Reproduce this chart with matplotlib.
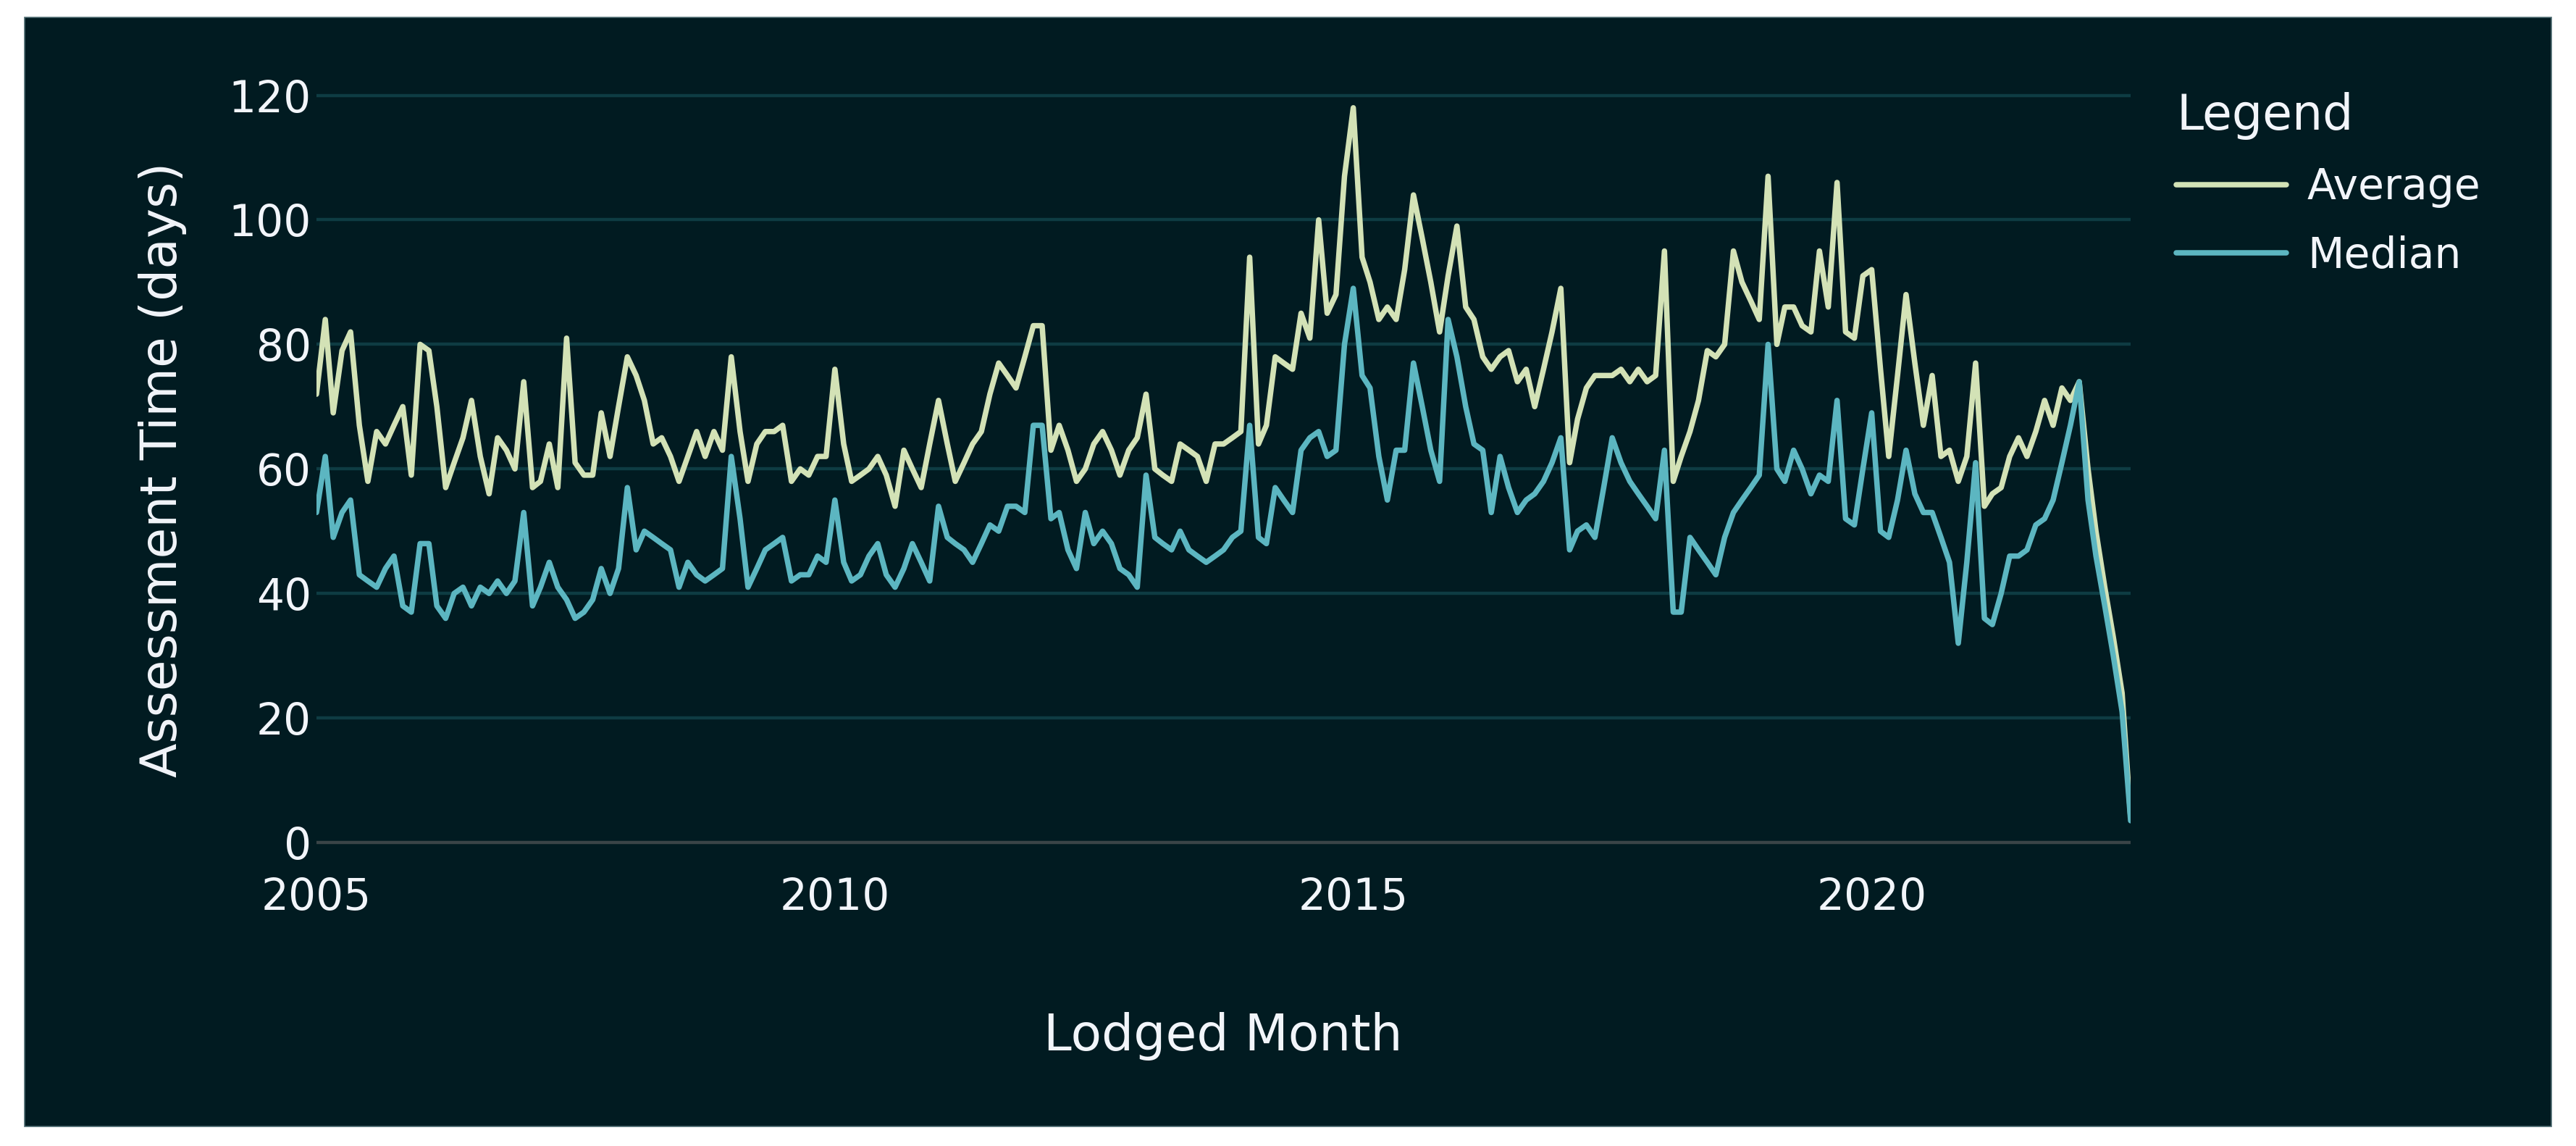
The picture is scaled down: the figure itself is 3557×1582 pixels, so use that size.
import numpy as np
import pandas as pd
import matplotlib
matplotlib.use("Agg")
import matplotlib.pyplot as plt
import matplotlib.dates as mdates
from matplotlib.patches import Rectangle

# ---------------- data (monthly, Jan 2005 .. Jul 2022) ----------------
start_month = "2005-01-01"
average = [
    72, 84, 69, 79, 82, 67, 58, 66, 64, 67, 70, 59,
    80, 79, 70, 57, 61, 65, 71, 62, 56, 65, 63, 60,
    74, 57, 58, 64, 57, 81, 61, 59, 59, 69, 62, 70,
    78, 75, 71, 64, 65, 62, 58, 62, 66, 62, 66, 63,
    78, 66, 58, 64, 66, 66, 67, 58, 60, 59, 62, 62,
    76, 64, 58, 59, 60, 62, 59, 54, 63, 60, 57, 64,
    71, 64, 58, 61, 64, 66, 72, 77, 75, 73, 78, 83,
    83, 63, 67, 63, 58, 60, 64, 66, 63, 59, 63, 65,
    72, 60, 59, 58, 64, 63, 62, 58, 64, 64, 65, 66,
    94, 64, 67, 78, 77, 76, 85, 81, 100, 85, 88, 107,
    118, 94, 90, 84, 86, 84, 92, 104, 97, 90, 82, 91,
    99, 86, 84, 78, 76, 78, 79, 74, 76, 70, 76, 82,
    89, 61, 68, 73, 75, 75, 75, 76, 74, 76, 74, 75,
    95, 58, 62, 66, 71, 79, 78, 80, 95, 90, 87, 84,
    107, 80, 86, 86, 83, 82, 95, 86, 106, 82, 81, 91,
    92, 76, 62, 75, 88, 77, 67, 75, 62, 63, 58, 62,
    77, 54, 56, 57, 62, 65, 62, 66, 71, 67, 73, 71,
    74, 60, 50, 41, 33, 24, 4,
]
median = [
    53, 62, 49, 53, 55, 43, 42, 41, 44, 46, 38, 37,
    48, 48, 38, 36, 40, 41, 38, 41, 40, 42, 40, 42,
    53, 38, 41, 45, 41, 39, 36, 37, 39, 44, 40, 44,
    57, 47, 50, 49, 48, 47, 41, 45, 43, 42, 43, 44,
    62, 52, 41, 44, 47, 48, 49, 42, 43, 43, 46, 45,
    55, 45, 42, 43, 46, 48, 43, 41, 44, 48, 45, 42,
    54, 49, 48, 47, 45, 48, 51, 50, 54, 54, 53, 67,
    67, 52, 53, 47, 44, 53, 48, 50, 48, 44, 43, 41,
    59, 49, 48, 47, 50, 47, 46, 45, 46, 47, 49, 50,
    67, 49, 48, 57, 55, 53, 63, 65, 66, 62, 63, 80,
    89, 75, 73, 62, 55, 63, 63, 77, 70, 63, 58, 84,
    78, 70, 64, 63, 53, 62, 57, 53, 55, 56, 58, 61,
    65, 47, 50, 51, 49, 57, 65, 61, 58, 56, 54, 52,
    63, 37, 37, 49, 47, 45, 43, 49, 53, 55, 57, 59,
    80, 60, 58, 63, 60, 56, 59, 58, 71, 52, 51, 60,
    69, 50, 49, 55, 63, 56, 53, 53, 49, 45, 32, 45,
    61, 36, 35, 40, 46, 46, 47, 51, 52, 55, 61, 67,
    74, 55, 46, 38, 30, 21, 3.5,
]
months = pd.date_range(start_month, periods=len(average), freq="MS")
series_names = ["Average", "Median"]
y_ticks = [0, 20, 40, 60, 80, 100, 120]
x_tick_years = [2005, 2010, 2015, 2020]

# ---------------- styling ----------------
W, H = 3557, 1582
BG = "#011b21"
GRID = "#0e3c43"
ZERO = "#3a4447"
TXT = "#f2f5fa"
C_AVG = "#d3e2b6"
C_MED = "#5cb6c1"

plt.rcParams["font.family"] = ["DejaVu Sans"]

fig = plt.figure(figsize=(W / 100, H / 100), dpi=100)
fig.patch.set_facecolor("white")
bg_rect = Rectangle((34 / W, 1 - 1555 / H), (3523 - 34) / W, (1555 - 24) / H,
                    transform=fig.transFigure, facecolor=BG,
                    edgecolor="#4d6b71", linewidth=1.2, zorder=-10)
fig.patches.append(bg_rect)

ax_left, ax_right = 437, 2942
ax_top, ax_bottom = 92.9, 1188.8
ax = fig.add_axes([ax_left / W, 1 - ax_bottom / H, (ax_right - ax_left) / W, (ax_bottom - ax_top) / H])
ax.set_zorder(5)
ax.patch.set_alpha(0)

lw = 5.4
ax.plot(months, average, color=C_AVG, lw=lw, label=series_names[0],
        solid_joinstyle="round", solid_capstyle="round", zorder=3)
ax.plot(months, median, color=C_MED, lw=lw, label=series_names[1],
        solid_joinstyle="round", solid_capstyle="round", zorder=4)

ax.set_xlim(months[0], months[-1])
ax.set_ylim(-3, 124.5)
ax.set_yticks(y_ticks)
ax.set_xticks([pd.Timestamp(f"{y}-01-01") for y in x_tick_years])
ax.xaxis.set_major_formatter(mdates.DateFormatter("%Y"))

for y in y_ticks:
    if y == 0:
        ax.axhline(0, color=ZERO, lw=3.2, zorder=2)
    else:
        ax.axhline(y, color=GRID, lw=3.2, zorder=1)

for s in ax.spines.values():
    s.set_visible(False)
ax.tick_params(axis="both", length=0, labelsize=43, labelcolor=TXT)
ax.tick_params(axis="x", pad=15)
ax.tick_params(axis="y", pad=5)

fig.text(224 / W, 1 - 648 / H, "Assessment Time (days)", rotation=90,
         ha="center", va="center", fontsize=50, color=TXT)
fig.text(1689 / W, 1 - 1430 / H, "Lodged Month", ha="center", va="center",
         fontsize=50, color=TXT)

leg = ax.legend(title="Legend", loc="upper left",
                bbox_to_anchor=(3005 / W, 1 - 127 / H), bbox_transform=fig.transFigure,
                frameon=False, fontsize=42, title_fontsize=48, handlelength=2.6,
                handletextpad=0.5, labelspacing=0.64, borderpad=0, borderaxespad=0,
                alignment="left")
for t in leg.get_texts():
    t.set_color(TXT)
leg.get_title().set_color(TXT)
for l in leg.get_lines():
    l.set_linewidth(lw)

fig.savefig("out.png", dpi=100, facecolor=fig.get_facecolor())
